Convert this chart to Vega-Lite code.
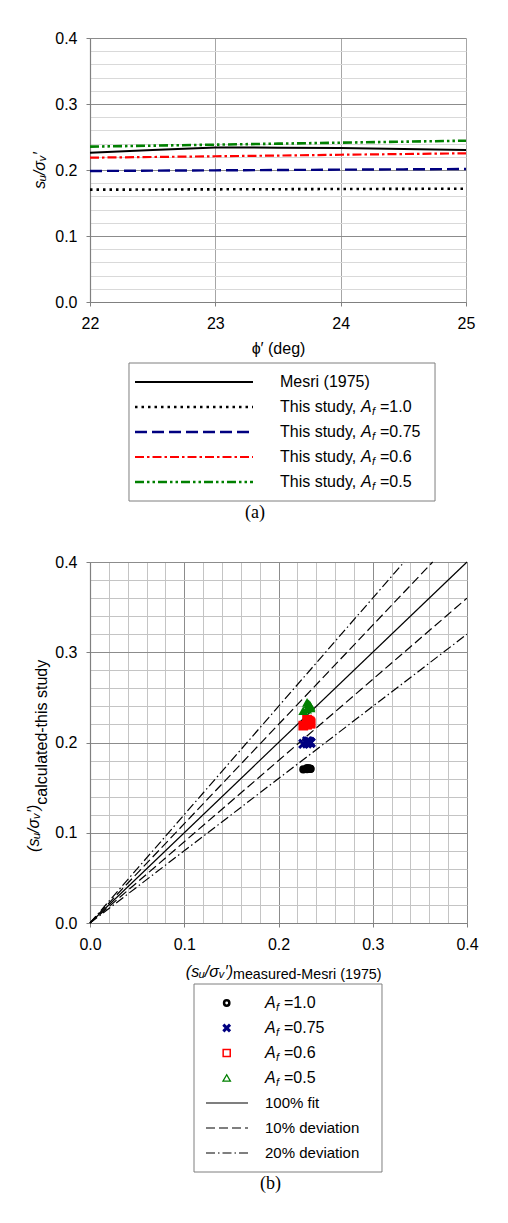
{
  "$schema": "https://vega.github.io/schema/vega-lite/v6.json",
  "background": "white",
  "padding": {"left": 26, "top": 30, "right": 8, "bottom": 8},
  "config": {
    "view": {"stroke": null},
    "font": "Liberation Sans",
    "axis": {
      "labelFont": "Liberation Sans", "labelFontSize": 16, "labelColor": "#000000",
      "labelPadding": 9, "labelOverlap": false, "labelFlush": false,
      "titleFont": "Liberation Sans", "titleFontSize": 16, "titleFontWeight": "normal", "titleColor": "#000000",
      "tickColor": "#808080", "tickSize": 4, "tickWidth": 1, "tickCount": 100,
      "domainColor": "#808080", "domainWidth": 1.2, "gridWidth": 1
    },
    "title": {"font": "Liberation Serif", "fontSize": 18, "fontWeight": "normal", "color": "#000000"},
    "text": {"font": "Liberation Sans", "color": "#000000"}
  },
  "datasets": {
    "ratios": [
      {"phi": 22, "af": "1.0", "mesri": 0.2263, "ratio": 0.1702},
      {"phi": 22.5, "af": "1.0", "mesri": 0.2303, "ratio": 0.1704},
      {"phi": 23, "af": "1.0", "mesri": 0.2340, "ratio": 0.1707},
      {"phi": 23.5, "af": "1.0", "mesri": 0.2339, "ratio": 0.1709},
      {"phi": 24, "af": "1.0", "mesri": 0.2333, "ratio": 0.1712},
      {"phi": 24.5, "af": "1.0", "mesri": 0.2320, "ratio": 0.1714},
      {"phi": 25, "af": "1.0", "mesri": 0.2303, "ratio": 0.1717},
      {"phi": 22, "af": "0.75", "mesri": 0.2263, "ratio": 0.1985},
      {"phi": 22.5, "af": "0.75", "mesri": 0.2303, "ratio": 0.1990},
      {"phi": 23, "af": "0.75", "mesri": 0.2340, "ratio": 0.1995},
      {"phi": 23.5, "af": "0.75", "mesri": 0.2339, "ratio": 0.2000},
      {"phi": 24, "af": "0.75", "mesri": 0.2333, "ratio": 0.2005},
      {"phi": 24.5, "af": "0.75", "mesri": 0.2320, "ratio": 0.2010},
      {"phi": 25, "af": "0.75", "mesri": 0.2303, "ratio": 0.2015},
      {"phi": 22, "af": "0.6", "mesri": 0.2263, "ratio": 0.2187},
      {"phi": 22.5, "af": "0.6", "mesri": 0.2303, "ratio": 0.2197},
      {"phi": 23, "af": "0.6", "mesri": 0.2340, "ratio": 0.2208},
      {"phi": 23.5, "af": "0.6", "mesri": 0.2339, "ratio": 0.2219},
      {"phi": 24, "af": "0.6", "mesri": 0.2333, "ratio": 0.2231},
      {"phi": 24.5, "af": "0.6", "mesri": 0.2320, "ratio": 0.2242},
      {"phi": 25, "af": "0.6", "mesri": 0.2303, "ratio": 0.2253},
      {"phi": 22, "af": "0.5", "mesri": 0.2263, "ratio": 0.2354},
      {"phi": 22.5, "af": "0.5", "mesri": 0.2303, "ratio": 0.2369},
      {"phi": 23, "af": "0.5", "mesri": 0.2340, "ratio": 0.2384},
      {"phi": 23.5, "af": "0.5", "mesri": 0.2339, "ratio": 0.2399},
      {"phi": 24, "af": "0.5", "mesri": 0.2333, "ratio": 0.2414},
      {"phi": 24.5, "af": "0.5", "mesri": 0.2320, "ratio": 0.2429},
      {"phi": 25, "af": "0.5", "mesri": 0.2303, "ratio": 0.2444}
    ],
    "guides": [
      {"guide": "100% fit", "side": "mid", "x": 0, "y": 0},
      {"guide": "100% fit", "side": "mid", "x": 0.4, "y": 0.4},
      {"guide": "10% deviation", "side": "upper", "x": 0, "y": 0},
      {"guide": "10% deviation", "side": "upper", "x": 0.3636, "y": 0.4},
      {"guide": "10% deviation", "side": "lower", "x": 0, "y": 0},
      {"guide": "10% deviation", "side": "lower", "x": 0.4, "y": 0.36},
      {"guide": "20% deviation", "side": "upper", "x": 0, "y": 0},
      {"guide": "20% deviation", "side": "upper", "x": 0.3333, "y": 0.4},
      {"guide": "20% deviation", "side": "lower", "x": 0, "y": 0},
      {"guide": "20% deviation", "side": "lower", "x": 0.4, "y": 0.32}
    ],
    "legendA": [
      {"key": "mesri", "lead": "Mesri (1975)", "sym": "", "sub": "", "tail": ""},
      {"key": "1.0", "lead": "This study, ", "sym": "A", "sub": "f", "tail": "=1.0"},
      {"key": "0.75", "lead": "This study, ", "sym": "A", "sub": "f", "tail": "=0.75"},
      {"key": "0.6", "lead": "This study, ", "sym": "A", "sub": "f", "tail": "=0.6"},
      {"key": "0.5", "lead": "This study, ", "sym": "A", "sub": "f", "tail": "=0.5"}
    ],
    "legendB": [
      {"key": "1.0", "lead": "", "sym": "A", "sub": "f", "tail": "=1.0"},
      {"key": "0.75", "lead": "", "sym": "A", "sub": "f", "tail": "=0.75"},
      {"key": "0.6", "lead": "", "sym": "A", "sub": "f", "tail": "=0.6"},
      {"key": "0.5", "lead": "", "sym": "A", "sub": "f", "tail": "=0.5"},
      {"key": "100% fit", "lead": "100% fit", "sym": "", "sub": "", "tail": ""},
      {"key": "10% deviation", "lead": "10% deviation", "sym": "", "sub": "", "tail": ""},
      {"key": "20% deviation", "lead": "20% deviation", "sym": "", "sub": "", "tail": ""}
    ]
  },
  "spacing": 61,
  "bounds": "flush",
  "vconcat": [
    {
      "width": 376,
      "height": 264,
      "data": {"name": "ratios"},
      "layer": [
        {
          "transform": [{"filter": "datum.af === '1.0'"}],
          "mark": {"type": "line", "color": "#000000", "strokeWidth": 2},
          "encoding": {
            "x": {"field": "phi", "type": "quantitative", "scale": {"domain": [22, 25], "nice": false, "zero": false},
              "axis": {"values": [22, 23, 24, 25], "tickCount": 100, "format": "d", "title": "ϕ′ (deg)", "titlePadding": 9, "gridColor": "#a6a6a6"}},
            "y": {"field": "mesri", "type": "quantitative", "scale": {"domain": [0, 0.4], "nice": false},
              "axis": {
                "values": [0, 0.02, 0.04, 0.06, 0.08, 0.1, 0.12, 0.14, 0.16, 0.18, 0.2, 0.22, 0.24, 0.26, 0.28, 0.3, 0.32, 0.34, 0.36, 0.38, 0.4],
                "tickCount": 100,
                "title": "sᵤ/σᵥ′", "titleFontStyle": "italic", "titlePadding": 7,
                "labelExpr": "abs(datum.value*10 - round(datum.value*10)) < 0.001 ? format(datum.value, '.1f') : ''",
                "gridColor": {"condition": {"test": "abs(datum.value*10 - round(datum.value*10)) < 0.001", "value": "#8c8c8c"}, "value": "#d9d9d9"},
                "tickOpacity": {"condition": {"test": "abs(datum.value*10 - round(datum.value*10)) < 0.001", "value": 1}, "value": 0}
              }}
          }
        },
        {
          "transform": [{"filter": "datum.af === '1.0'"}],
          "mark": {"type": "line", "color": "#000000", "strokeWidth": 2.6, "strokeDash": [2.5, 4]},
          "encoding": {
            "x": {"field": "phi", "type": "quantitative", "scale": {"domain": [22, 25], "nice": false, "zero": false}},
            "y": {"field": "ratio", "type": "quantitative", "scale": {"domain": [0, 0.4], "nice": false}}
          }
        },
        {
          "transform": [{"filter": "datum.af === '0.75'"}],
          "mark": {"type": "line", "color": "#000080", "strokeWidth": 2.4, "strokeDash": [12, 5]},
          "encoding": {
            "x": {"field": "phi", "type": "quantitative", "scale": {"domain": [22, 25], "nice": false, "zero": false}},
            "y": {"field": "ratio", "type": "quantitative", "scale": {"domain": [0, 0.4], "nice": false}}
          }
        },
        {
          "transform": [{"filter": "datum.af === '0.6'"}],
          "mark": {"type": "line", "color": "#ff0000", "strokeWidth": 2.2, "strokeDash": [9, 3, 2.5, 3]},
          "encoding": {
            "x": {"field": "phi", "type": "quantitative", "scale": {"domain": [22, 25], "nice": false, "zero": false}},
            "y": {"field": "ratio", "type": "quantitative", "scale": {"domain": [0, 0.4], "nice": false}}
          }
        },
        {
          "transform": [{"filter": "datum.af === '0.5'"}],
          "mark": {"type": "line", "color": "#008000", "strokeWidth": 2.6, "strokeDash": [9, 3, 2.5, 3, 2.5, 3]},
          "encoding": {
            "x": {"field": "phi", "type": "quantitative", "scale": {"domain": [22, 25], "nice": false, "zero": false}},
            "y": {"field": "ratio", "type": "quantitative", "scale": {"domain": [0, 0.4], "nice": false}}
          }
        }
      ]
    },
    {
      "width": 376,
      "height": 138,
      "title": {"text": "(a)", "orient": "bottom", "anchor": "middle", "baseline": "top", "dx": -23, "offset": 2},
      "layer": [
        {
          "data": {"values": [{}]},
          "mark": {"type": "rect", "fill": "#ffffff", "stroke": "#7f7f7f", "strokeWidth": 1},
          "encoding": {
            "x": {"datum": 0.1037, "type": "quantitative", "scale": {"domain": [0, 1]}, "axis": null},
            "x2": {"datum": 0.9176}
          }
        },
        {
          "data": {"name": "legendA"},
          "transform": [{"filter": "datum.key === 'mesri'"}],
          "mark": {"type": "rule", "color": "#000000", "strokeWidth": 2},
          "encoding": {
            "x": {"datum": 0.1197, "type": "quantitative", "scale": {"domain": [0, 1]}, "axis": null},
            "x2": {"datum": 0.4335},
            "y": {"field": "key", "type": "nominal", "scale": {"type": "point", "domain": ["mesri", "1.0", "0.75", "0.6", "0.5"], "padding": 0.76}, "axis": null}
          }
        },
        {
          "data": {"name": "legendA"},
          "transform": [{"filter": "datum.key === '1.0'"}],
          "mark": {"type": "rule", "color": "#000000", "strokeWidth": 2.6, "strokeDash": [2.5, 4]},
          "encoding": {
            "x": {"datum": 0.1197, "type": "quantitative", "scale": {"domain": [0, 1]}, "axis": null},
            "x2": {"datum": 0.4335},
            "y": {"field": "key", "type": "nominal", "scale": {"type": "point", "domain": ["mesri", "1.0", "0.75", "0.6", "0.5"], "padding": 0.76}, "axis": null}
          }
        },
        {
          "data": {"name": "legendA"},
          "transform": [{"filter": "datum.key === '0.75'"}],
          "mark": {"type": "rule", "color": "#000080", "strokeWidth": 2.4, "strokeDash": [12, 5]},
          "encoding": {
            "x": {"datum": 0.1197, "type": "quantitative", "scale": {"domain": [0, 1]}, "axis": null},
            "x2": {"datum": 0.4335},
            "y": {"field": "key", "type": "nominal", "scale": {"type": "point", "domain": ["mesri", "1.0", "0.75", "0.6", "0.5"], "padding": 0.76}, "axis": null}
          }
        },
        {
          "data": {"name": "legendA"},
          "transform": [{"filter": "datum.key === '0.6'"}],
          "mark": {"type": "rule", "color": "#ff0000", "strokeWidth": 2.2, "strokeDash": [9, 3, 2.5, 3]},
          "encoding": {
            "x": {"datum": 0.1197, "type": "quantitative", "scale": {"domain": [0, 1]}, "axis": null},
            "x2": {"datum": 0.4335},
            "y": {"field": "key", "type": "nominal", "scale": {"type": "point", "domain": ["mesri", "1.0", "0.75", "0.6", "0.5"], "padding": 0.76}, "axis": null}
          }
        },
        {
          "data": {"name": "legendA"},
          "transform": [{"filter": "datum.key === '0.5'"}],
          "mark": {"type": "rule", "color": "#008000", "strokeWidth": 2.6, "strokeDash": [9, 3, 2.5, 3, 2.5, 3]},
          "encoding": {
            "x": {"datum": 0.1197, "type": "quantitative", "scale": {"domain": [0, 1]}, "axis": null},
            "x2": {"datum": 0.4335},
            "y": {"field": "key", "type": "nominal", "scale": {"type": "point", "domain": ["mesri", "1.0", "0.75", "0.6", "0.5"], "padding": 0.76}, "axis": null}
          }
        },
        {
          "data": {"name": "legendA"},
          "mark": {"type": "text", "align": "left", "baseline": "middle", "fontSize": 16},
          "encoding": {
            "x": {"datum": 0.5053, "type": "quantitative", "scale": {"domain": [0, 1]}, "axis": null},
            "y": {"field": "key", "type": "nominal", "scale": {"type": "point", "domain": ["mesri", "1.0", "0.75", "0.6", "0.5"], "padding": 0.76}, "axis": null},
            "text": {"field": "lead"}
          }
        },
        {
          "data": {"name": "legendA"},
          "mark": {"type": "text", "align": "left", "baseline": "middle", "fontSize": 16, "fontStyle": "italic", "dx": 81},
          "encoding": {
            "x": {"datum": 0.5053, "type": "quantitative", "scale": {"domain": [0, 1]}, "axis": null},
            "y": {"field": "key", "type": "nominal", "scale": {"type": "point", "domain": ["mesri", "1.0", "0.75", "0.6", "0.5"], "padding": 0.76}, "axis": null},
            "text": {"field": "sym"}
          }
        },
        {
          "data": {"name": "legendA"},
          "mark": {"type": "text", "align": "left", "baseline": "middle", "fontSize": 11, "fontStyle": "italic", "dx": 92, "dy": 5},
          "encoding": {
            "x": {"datum": 0.5053, "type": "quantitative", "scale": {"domain": [0, 1]}, "axis": null},
            "y": {"field": "key", "type": "nominal", "scale": {"type": "point", "domain": ["mesri", "1.0", "0.75", "0.6", "0.5"], "padding": 0.76}, "axis": null},
            "text": {"field": "sub"}
          }
        },
        {
          "data": {"name": "legendA"},
          "mark": {"type": "text", "align": "left", "baseline": "middle", "fontSize": 16, "dx": 100},
          "encoding": {
            "x": {"datum": 0.5053, "type": "quantitative", "scale": {"domain": [0, 1]}, "axis": null},
            "y": {"field": "key", "type": "nominal", "scale": {"type": "point", "domain": ["mesri", "1.0", "0.75", "0.6", "0.5"], "padding": 0.76}, "axis": null},
            "text": {"field": "tail"}
          }
        }
      ]
    },
    {
      "width": 377,
      "height": 361,
      "layer": [
        {
          "data": {"name": "guides"},
          "transform": [{"filter": "datum.guide === '100% fit'"}],
          "mark": {"type": "line", "color": "#000000", "strokeWidth": 1.2},
          "encoding": {
            "x": {"field": "x", "type": "quantitative", "scale": {"domain": [0, 0.4], "nice": false},
              "axis": {
                "values": [0, 0.02, 0.04, 0.06, 0.08, 0.1, 0.12, 0.14, 0.16, 0.18, 0.2, 0.22, 0.24, 0.26, 0.28, 0.3, 0.32, 0.34, 0.36, 0.38, 0.4],
                "tickCount": 100,
                "title": null,
                "labelExpr": "abs(datum.value*10 - round(datum.value*10)) < 0.001 ? format(datum.value, '.1f') : ''",
                "gridColor": {"condition": {"test": "abs(datum.value*10 - round(datum.value*10)) < 0.001", "value": "#8c8c8c"}, "value": "#c4c4c4"},
                "tickOpacity": {"condition": {"test": "abs(datum.value*10 - round(datum.value*10)) < 0.001", "value": 1}, "value": 0}
              }},
            "y": {"field": "y", "type": "quantitative", "scale": {"domain": [0, 0.4], "nice": false},
              "axis": {
                "values": [0, 0.02, 0.04, 0.06, 0.08, 0.1, 0.12, 0.14, 0.16, 0.18, 0.2, 0.22, 0.24, 0.26, 0.28, 0.3, 0.32, 0.34, 0.36, 0.38, 0.4],
                "tickCount": 100,
                "title": null,
                "labelExpr": "abs(datum.value*10 - round(datum.value*10)) < 0.001 ? format(datum.value, '.1f') : ''",
                "gridColor": {"condition": {"test": "abs(datum.value*10 - round(datum.value*10)) < 0.001", "value": "#8c8c8c"}, "value": "#c4c4c4"},
                "tickOpacity": {"condition": {"test": "abs(datum.value*10 - round(datum.value*10)) < 0.001", "value": 1}, "value": 0}
              }},
            "detail": {"field": "side"}
          }
        },
        {
          "data": {"name": "guides"},
          "transform": [{"filter": "datum.guide === '10% deviation'"}],
          "mark": {"type": "line", "color": "#000000", "strokeWidth": 1.2, "strokeDash": [9, 4]},
          "encoding": {
            "x": {"field": "x", "type": "quantitative", "scale": {"domain": [0, 0.4], "nice": false}},
            "y": {"field": "y", "type": "quantitative", "scale": {"domain": [0, 0.4], "nice": false}},
            "detail": {"field": "side"}
          }
        },
        {
          "data": {"name": "guides"},
          "transform": [{"filter": "datum.guide === '20% deviation'"}],
          "mark": {"type": "line", "color": "#000000", "strokeWidth": 1.2, "strokeDash": [9, 3, 1.5, 3]},
          "encoding": {
            "x": {"field": "x", "type": "quantitative", "scale": {"domain": [0, 0.4], "nice": false}},
            "y": {"field": "y", "type": "quantitative", "scale": {"domain": [0, 0.4], "nice": false}},
            "detail": {"field": "side"}
          }
        },
        {
          "data": {"name": "ratios"},
          "transform": [{"filter": "datum.af === '1.0'"}],
          "mark": {"type": "point", "shape": "circle", "filled": true, "color": "#000000", "size": 65, "opacity": 1},
          "encoding": {
            "x": {"field": "mesri", "type": "quantitative", "scale": {"domain": [0, 0.4], "nice": false}},
            "y": {"field": "ratio", "type": "quantitative", "scale": {"domain": [0, 0.4], "nice": false}}
          }
        },
        {
          "data": {"name": "ratios"},
          "transform": [{"filter": "datum.af === '0.75'"}],
          "mark": {"type": "point", "shape": "M-1,-1L1,1M-1,1L1,-1", "filled": false, "color": "#000080", "strokeWidth": 3, "size": 70, "opacity": 1},
          "encoding": {
            "x": {"field": "mesri", "type": "quantitative", "scale": {"domain": [0, 0.4], "nice": false}},
            "y": {"field": "ratio", "type": "quantitative", "scale": {"domain": [0, 0.4], "nice": false}}
          }
        },
        {
          "data": {"name": "ratios"},
          "transform": [{"filter": "datum.af === '0.6'"}],
          "mark": {"type": "point", "shape": "square", "filled": true, "color": "#ff0000", "size": 95, "opacity": 1},
          "encoding": {
            "x": {"field": "mesri", "type": "quantitative", "scale": {"domain": [0, 0.4], "nice": false}},
            "y": {"field": "ratio", "type": "quantitative", "scale": {"domain": [0, 0.4], "nice": false}}
          }
        },
        {
          "data": {"name": "ratios"},
          "transform": [{"filter": "datum.af === '0.5'"}],
          "mark": {"type": "point", "shape": "triangle-up", "filled": true, "color": "#008000", "size": 100, "opacity": 1},
          "encoding": {
            "x": {"field": "mesri", "type": "quantitative", "scale": {"domain": [0, 0.4], "nice": false}},
            "y": {"field": "ratio", "type": "quantitative", "scale": {"domain": [0, 0.4], "nice": false}}
          }
        },
        {
          "data": {"values": [{}]},
          "mark": {"type": "text", "text": "(sᵤ/σᵥ′)", "fontSize": 16, "fontStyle": "italic", "align": "right", "baseline": "alphabetic", "dy": 54},
          "encoding": {
            "x": {"datum": 0.1517, "type": "quantitative", "scale": {"domain": [0, 0.4], "nice": false}},
            "y": {"datum": 0, "type": "quantitative", "scale": {"domain": [0, 0.4], "nice": false}}
          }
        },
        {
          "data": {"values": [{}]},
          "mark": {"type": "text", "text": "measured-Mesri (1975)", "fontSize": 14.3, "align": "left", "baseline": "alphabetic", "dy": 56},
          "encoding": {
            "x": {"datum": 0.1517, "type": "quantitative", "scale": {"domain": [0, 0.4], "nice": false}},
            "y": {"datum": 0, "type": "quantitative", "scale": {"domain": [0, 0.4], "nice": false}}
          }
        },
        {
          "data": {"values": [{}]},
          "mark": {"type": "text", "text": "(sᵤ/σᵥ′)", "fontSize": 16, "fontStyle": "italic", "angle": 270, "align": "right", "baseline": "alphabetic", "dy": -51},
          "encoding": {
            "x": {"datum": 0, "type": "quantitative", "scale": {"domain": [0, 0.4], "nice": false}},
            "y": {"datum": 0.131, "type": "quantitative", "scale": {"domain": [0, 0.4], "nice": false}}
          }
        },
        {
          "data": {"values": [{}]},
          "mark": {"type": "text", "text": "calculated-this study", "fontSize": 16, "angle": 270, "align": "left", "baseline": "alphabetic", "dy": -43},
          "encoding": {
            "x": {"datum": 0, "type": "quantitative", "scale": {"domain": [0, 0.4], "nice": false}},
            "y": {"datum": 0.131, "type": "quantitative", "scale": {"domain": [0, 0.4], "nice": false}}
          }
        }
      ]
    },
    {
      "width": 377,
      "height": 188,
      "title": {"text": "(b)", "orient": "bottom", "anchor": "middle", "baseline": "top", "dx": -8, "offset": 2},
      "layer": [
        {
          "data": {"values": [{}]},
          "mark": {"type": "rect", "fill": "#ffffff", "stroke": "#7f7f7f", "strokeWidth": 1},
          "encoding": {
            "x": {"datum": 0.2759, "type": "quantitative", "scale": {"domain": [0, 1]}, "axis": null},
            "x2": {"datum": 0.7745}
          }
        },
        {
          "data": {"name": "legendB"},
          "transform": [{"filter": "datum.key === '1.0'"}],
          "mark": {"type": "point", "shape": "circle", "filled": false, "color": "#000000", "strokeWidth": 2.5, "size": 28, "opacity": 1},
          "encoding": {
            "x": {"datum": 0.3626, "type": "quantitative", "scale": {"domain": [0, 1]}, "axis": null},
            "y": {"field": "key", "type": "nominal", "scale": {"type": "point", "domain": ["1.0", "0.75", "0.6", "0.5", "100% fit", "10% deviation", "20% deviation"], "padding": 0.76}, "axis": null}
          }
        },
        {
          "data": {"name": "legendB"},
          "transform": [{"filter": "datum.key === '0.75'"}],
          "mark": {"type": "point", "shape": "M-1,-1L1,1M-1,1L1,-1", "filled": false, "color": "#000080", "strokeWidth": 3, "size": 45, "opacity": 1},
          "encoding": {
            "x": {"datum": 0.3626, "type": "quantitative", "scale": {"domain": [0, 1]}, "axis": null},
            "y": {"field": "key", "type": "nominal", "scale": {"type": "point", "domain": ["1.0", "0.75", "0.6", "0.5", "100% fit", "10% deviation", "20% deviation"], "padding": 0.76}, "axis": null}
          }
        },
        {
          "data": {"name": "legendB"},
          "transform": [{"filter": "datum.key === '0.6'"}],
          "mark": {"type": "point", "shape": "square", "filled": false, "color": "#ff0000", "strokeWidth": 1.5, "size": 50, "opacity": 1},
          "encoding": {
            "x": {"datum": 0.3626, "type": "quantitative", "scale": {"domain": [0, 1]}, "axis": null},
            "y": {"field": "key", "type": "nominal", "scale": {"type": "point", "domain": ["1.0", "0.75", "0.6", "0.5", "100% fit", "10% deviation", "20% deviation"], "padding": 0.76}, "axis": null}
          }
        },
        {
          "data": {"name": "legendB"},
          "transform": [{"filter": "datum.key === '0.5'"}],
          "mark": {"type": "point", "shape": "triangle-up", "filled": false, "color": "#008000", "strokeWidth": 1.3, "size": 55, "opacity": 1},
          "encoding": {
            "x": {"datum": 0.3626, "type": "quantitative", "scale": {"domain": [0, 1]}, "axis": null},
            "y": {"field": "key", "type": "nominal", "scale": {"type": "point", "domain": ["1.0", "0.75", "0.6", "0.5", "100% fit", "10% deviation", "20% deviation"], "padding": 0.76}, "axis": null}
          }
        },
        {
          "data": {"name": "legendB"},
          "transform": [{"filter": "datum.key === '100% fit'"}],
          "mark": {"type": "rule", "color": "#000000", "strokeWidth": 1.2},
          "encoding": {
            "x": {"datum": 0.3077, "type": "quantitative", "scale": {"domain": [0, 1]}, "axis": null},
            "x2": {"datum": 0.4191},
            "y": {"field": "key", "type": "nominal", "scale": {"type": "point", "domain": ["1.0", "0.75", "0.6", "0.5", "100% fit", "10% deviation", "20% deviation"], "padding": 0.76}, "axis": null}
          }
        },
        {
          "data": {"name": "legendB"},
          "transform": [{"filter": "datum.key === '10% deviation'"}],
          "mark": {"type": "rule", "color": "#000000", "strokeWidth": 1.2, "strokeDash": [9, 4]},
          "encoding": {
            "x": {"datum": 0.3077, "type": "quantitative", "scale": {"domain": [0, 1]}, "axis": null},
            "x2": {"datum": 0.4191},
            "y": {"field": "key", "type": "nominal", "scale": {"type": "point", "domain": ["1.0", "0.75", "0.6", "0.5", "100% fit", "10% deviation", "20% deviation"], "padding": 0.76}, "axis": null}
          }
        },
        {
          "data": {"name": "legendB"},
          "transform": [{"filter": "datum.key === '20% deviation'"}],
          "mark": {"type": "rule", "color": "#000000", "strokeWidth": 1.2, "strokeDash": [9, 3, 1.5, 3]},
          "encoding": {
            "x": {"datum": 0.3077, "type": "quantitative", "scale": {"domain": [0, 1]}, "axis": null},
            "x2": {"datum": 0.4191},
            "y": {"field": "key", "type": "nominal", "scale": {"type": "point", "domain": ["1.0", "0.75", "0.6", "0.5", "100% fit", "10% deviation", "20% deviation"], "padding": 0.76}, "axis": null}
          }
        },
        {
          "data": {"name": "legendB"},
          "mark": {"type": "text", "align": "left", "baseline": "middle", "fontSize": 15},
          "encoding": {
            "x": {"datum": 0.4642, "type": "quantitative", "scale": {"domain": [0, 1]}, "axis": null},
            "y": {"field": "key", "type": "nominal", "scale": {"type": "point", "domain": ["1.0", "0.75", "0.6", "0.5", "100% fit", "10% deviation", "20% deviation"], "padding": 0.76}, "axis": null},
            "text": {"field": "lead"}
          }
        },
        {
          "data": {"name": "legendB"},
          "mark": {"type": "text", "align": "left", "baseline": "middle", "fontSize": 16, "fontStyle": "italic"},
          "encoding": {
            "x": {"datum": 0.4642, "type": "quantitative", "scale": {"domain": [0, 1]}, "axis": null},
            "y": {"field": "key", "type": "nominal", "scale": {"type": "point", "domain": ["1.0", "0.75", "0.6", "0.5", "100% fit", "10% deviation", "20% deviation"], "padding": 0.76}, "axis": null},
            "text": {"field": "sym"}
          }
        },
        {
          "data": {"name": "legendB"},
          "mark": {"type": "text", "align": "left", "baseline": "middle", "fontSize": 11, "fontStyle": "italic", "dx": 11, "dy": 5},
          "encoding": {
            "x": {"datum": 0.4642, "type": "quantitative", "scale": {"domain": [0, 1]}, "axis": null},
            "y": {"field": "key", "type": "nominal", "scale": {"type": "point", "domain": ["1.0", "0.75", "0.6", "0.5", "100% fit", "10% deviation", "20% deviation"], "padding": 0.76}, "axis": null},
            "text": {"field": "sub"}
          }
        },
        {
          "data": {"name": "legendB"},
          "mark": {"type": "text", "align": "left", "baseline": "middle", "fontSize": 16, "dx": 19},
          "encoding": {
            "x": {"datum": 0.4642, "type": "quantitative", "scale": {"domain": [0, 1]}, "axis": null},
            "y": {"field": "key", "type": "nominal", "scale": {"type": "point", "domain": ["1.0", "0.75", "0.6", "0.5", "100% fit", "10% deviation", "20% deviation"], "padding": 0.76}, "axis": null},
            "text": {"field": "tail"}
          }
        }
      ]
    }
  ]
}
